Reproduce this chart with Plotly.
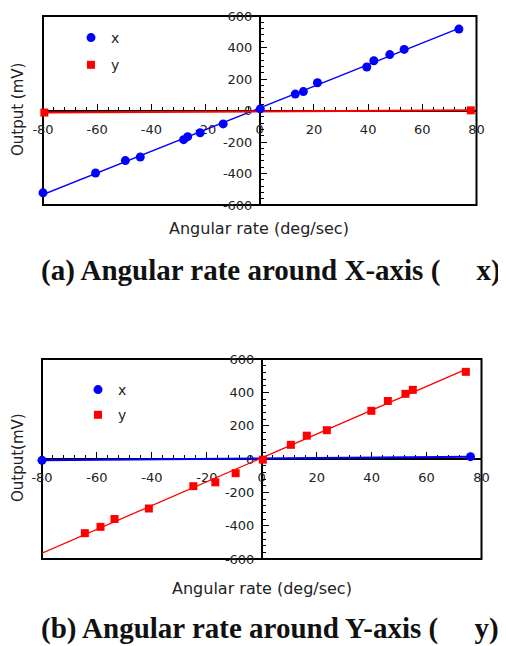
import numpy as np
import plotly.graph_objects as go

# ---------------- data ----------------
# (a) rotation around X-axis
a_x_rate = [-80, -60.6, -49.6, -44.1, -28.1, -26.6, -22.0, -13.5, 0.2, 13.1, 16.1, 21.3, 39.5, 42.1, 48.0, 53.3, 73.5]
a_x_out = [-523, -397, -318, -295, -185, -166, -141, -85, 10, 104, 120, 176, 276, 316, 355, 388, 517]
a_y_rate = [-79.5, 77.9]
a_y_out = [-13, 1]

# (b) rotation around Y-axis
b_y_rate = [-64.4, -58.7, -53.6, -41.1, -24.9, -16.9, -9.5, 0.4, 10.6, 16.4, 23.7, 39.9, 45.9, 52.3, 55.0, 74.3]
b_y_out = [-445, -407, -360, -297, -163, -140, -85, -4, 85, 140, 173, 289, 348, 391, 415, 523]
b_x_rate = [-80, 76]
b_x_out = [-8, 14]

series_names = ["x", "y"]
x_tickvals = [-80, -60, -40, -20, 0, 20, 40, 60, 80]
x_ticktext = ["-80", "-60", "-40", "-20", "0", "20", "40", "60", "80"]
y_tickvals = [-600, -400, -200, 0, 200, 400, 600]
y_ticktext = ["-600", "-400", "-200", "0", "200", "400", "600"]
x_range = [-80, 80]
y_range = [-600, 600]
x_title = "Angular rate (deg/sec)"
y_titles = ["Output (mV)", "Output(mV)"]
captions = ["(a) Angular rate around X-axis (" + "\u00a0" * 5 + "x)",
            "(b) Angular rate around Y-axis (" + "\u00a0" * 5 + "y)"]

BLUE = "#0000ff"
RED = "#ff0000"
PW, PH = 506, 646          # page (window) size
OFF = 8                    # default body margin of the html page
W, H = PW - OFF, PH - OFF  # figure size


def px(x):
    return (x - OFF) / W


def py(y):
    return 1 - (y - OFF) / H


fig = go.Figure()


def fit_line(xs, ys):
    k, b = np.polyfit(xs, ys, 1)
    xl = np.array([x_range[0], max(xs)])
    return xl, k * xl + b


panels = [
    dict(xa="x", ya="y", legend="legend",
         xs=(a_x_rate, a_x_out), ys=(a_y_rate, a_y_out), lw=(1.3, 2.0)),
    dict(xa="x2", ya="y2", legend="legend2",
         xs=(b_x_rate, b_x_out), ys=(b_y_rate, b_y_out), lw=(2.0, 1.3)),
]

for p in panels:
    for (rate, out), col, lw in [(p["xs"], BLUE, p["lw"][0]), (p["ys"], RED, p["lw"][1])]:
        xl, yl = fit_line(rate, out)
        fig.add_trace(go.Scatter(x=xl, y=yl, mode="lines", line=dict(color=col, width=lw),
                                 xaxis=p["xa"], yaxis=p["ya"], showlegend=False,
                                 hoverinfo="skip", cliponaxis=False))
    for (rate, out), name, col, sym in [
        (p["xs"], series_names[0], BLUE, "circle"),
        (p["ys"], series_names[1], RED, "square"),
    ]:
        fig.add_trace(go.Scatter(x=rate, y=out, mode="markers", name=name,
                                 marker=dict(color=col, symbol=sym, size=9 if sym == "circle" else 8),
                                 xaxis=p["xa"], yaxis=p["ya"], legend=p["legend"],
                                 legendgroup=p["legend"] + name, cliponaxis=False))

# plot boxes in page pixels
top = dict(x0=43, x1=476.5, y0=16, y1=205)
bot = dict(x0=42, x1=481.5, y0=359, y1=559)


def dom(d):
    return [px(d["x0"]), px(d["x1"])], [py(d["y1"]), py(d["y0"])]


tick_font = dict(family="DejaVu Sans", size=13, color="#222")


def axis_pair(d):
    xd, yd = dom(d)
    xa = dict(domain=xd, range=x_range, anchor="free", position=(yd[0] + yd[1]) / 2,
              automargin=False, ticklabeloverflow="allow",
              showline=True, linecolor="black", linewidth=1.5, showgrid=False, zeroline=False,
              ticks="inside", ticklen=6, tickwidth=1.2, tickcolor="black",
              tickmode="array", tickvals=x_tickvals, ticktext=x_ticktext,
              minor=dict(tickmode="linear", tick0=0, dtick=4, ticks="inside", ticklen=3,
                         tickcolor="black", tickwidth=1),
              tickfont=tick_font, ticklabelstandoff=7, layer="below traces", fixedrange=True)
    ya = dict(domain=yd, range=y_range, anchor="free", position=(xd[0] + xd[1]) / 2,
              automargin=False, ticklabeloverflow="allow",
              showline=True, linecolor="black", linewidth=1.5, showgrid=False, zeroline=False,
              ticks="inside", ticklen=6, tickwidth=1.2, tickcolor="black",
              tickmode="array", tickvals=y_tickvals, ticktext=y_ticktext,
              minor=dict(tickmode="linear", tick0=0, dtick=40, ticks="inside", ticklen=3,
                         tickcolor="black", tickwidth=1),
              tickfont=tick_font, ticklabelstandoff=4, layer="below traces", fixedrange=True)
    return xa, ya


xa1, ya1 = axis_pair(top)
xa2, ya2 = axis_pair(bot)

shapes = []
for xr, yr in [("x domain", "y domain"), ("x2 domain", "y2 domain")]:
    shapes.append(dict(type="rect", xref=xr, yref=yr, x0=0, x1=1, y0=0, y1=1,
                       line=dict(color="black", width=2), layer="below"))

title_font = dict(family="DejaVu Sans", size=16, color="#222")
ytitle_font = dict(family="DejaVu Sans", size=15, color="#222")
cap_font = dict(family="Liberation Serif", size=29, color="#111", weight="bold")
annotations = [
    dict(text=x_title, x=px(259.5), y=py(229), font=title_font, xanchor="center"),
    dict(text=x_title, x=px(261.5), y=py(588), font=title_font, xanchor="center"),
    dict(text=y_titles[0], x=px(18), y=py(110), font=ytitle_font, textangle=-90, xanchor="center"),
    dict(text=y_titles[1], x=px(18), y=py(458), font=ytitle_font, textangle=-90, xanchor="center"),
    dict(text=captions[0], x=px(39), y=py(270), font=cap_font, xanchor="left"),
    dict(text=captions[1], x=px(39), y=py(628), font=cap_font, xanchor="left"),
]
for a in annotations:
    a.update(xref="paper", yref="paper", showarrow=False, yanchor="middle")

leg_font = dict(family="DejaVu Sans", size=14, color="#222")
leg_common = dict(font=leg_font, bgcolor="rgba(0,0,0,0)", borderwidth=0,
                  xanchor="left", yanchor="top", orientation="v")

fig.update_layout(
    width=W, height=H, margin=dict(l=0, r=0, t=0, b=0),
    paper_bgcolor="white", plot_bgcolor="white",
    xaxis=xa1, yaxis=ya1, xaxis2=xa2, yaxis2=ya2,
    shapes=shapes, annotations=annotations,
    legend=dict(x=px(71), y=py(22), tracegroupgap=6, **leg_common),
    legend2=dict(x=px(78), y=py(374), tracegroupgap=4, **leg_common),
    showlegend=True,
)

fig.write_html("out.html")
